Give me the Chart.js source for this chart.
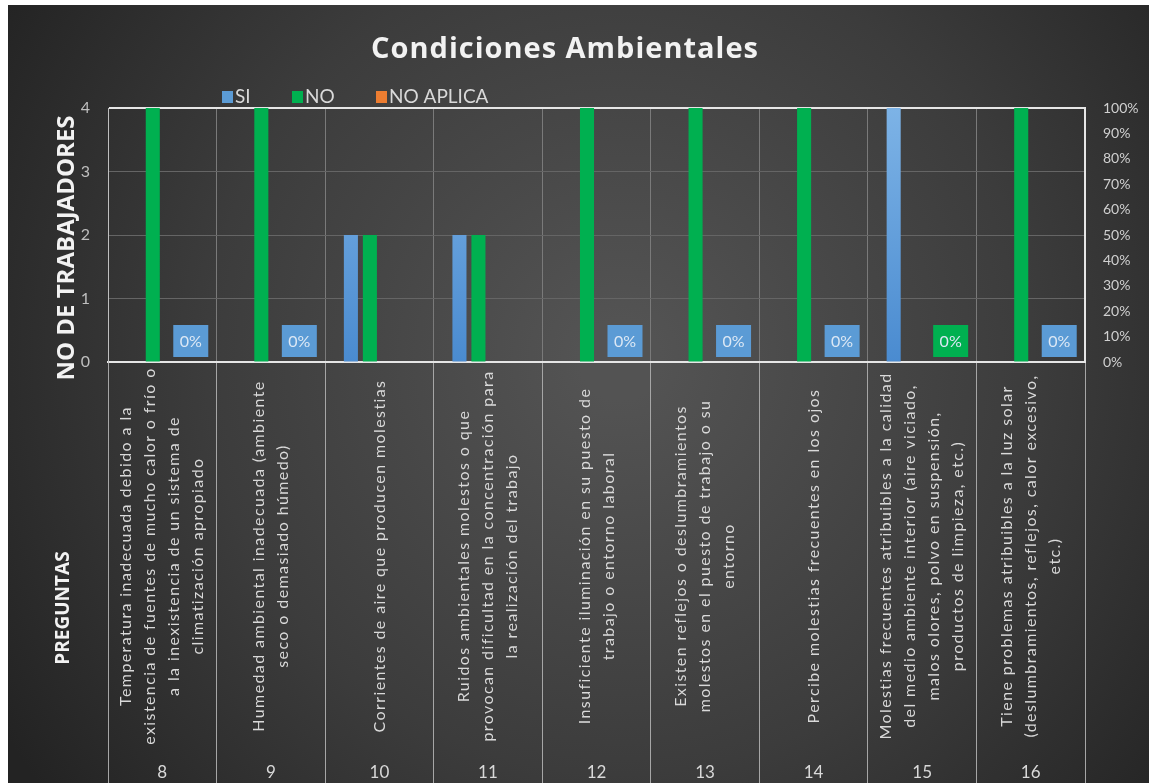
<!DOCTYPE html>
<html>
<head>
<meta charset="utf-8">
<script src="https://cdn.jsdelivr.net/npm/chart.js@4"></script>
<style>
  html, body { margin: 0; padding: 0; background: #fff; }
  canvas { display: block; }
</style>
</head>
<body>
<canvas id="c" width="1149" height="783"></canvas>
<script>
// Condiciones Ambientales — barras agrupadas SI / NO / NO APLICA + etiqueta % por pregunta
const NUMEROS = ["8", "9", "10", "11", "12", "13", "14", "15", "16"];
const PREGUNTAS = [
  ["Temperatura inadecuada debido a la", "existencia de fuentes de mucho calor o frío o", "a la inexistencia de un sistema de", "climatización apropiado"],
  ["Humedad ambiental inadecuada (ambiente", "seco o demasiado húmedo)"],
  ["Corrientes de aire que producen molestias"],
  ["Ruidos ambientales molestos o que", "provocan dificultad en la concentración para", "la realización del trabajo"],
  ["Insuficiente iluminación en su puesto de", "trabajo o entorno laboral"],
  ["Existen reflejos o deslumbramientos", "molestos en el puesto de trabajo o su", "entorno"],
  ["Percibe molestias frecuentes en los ojos"],
  ["Molestias frecuentes atribuibles a la calidad", "del medio ambiente interior (aire viciado,", "malos olores, polvo en suspensión,", "productos de limpieza, etc.)"],
  ["Tiene problemas atribuibles a la luz solar", "(deslumbramientos, reflejos, calor excesivo,", "etc.)"],
];
const SI = [0, 0, 2, 2, 0, 0, 0, 4, 0];
const NO = [4, 4, 2, 2, 4, 4, 4, 0, 4];
const NO_APLICA = [0, 0, 0, 0, 0, 0, 0, 0, 0];
const PORCENTAJE = [0, 0, 0, 0, 0, 0, 0, 0, 0];
const PCT_BOX = ["#5b9bd5", "#5b9bd5", "#5b9bd5", "#5b9bd5", "#5b9bd5", "#5b9bd5", "#5b9bd5", "#00b050", "#5b9bd5"];
const PCT_SHOWN = [true, true, false, false, true, true, true, true, true];

const BLUE = "#5b9bd5", GREEN = "#00b050", ORANGE = "#ed7d31";
const TXT = "#d9d9d9";
const LABEL_FONT = "Lato, 'Open Sans', sans-serif";

const blueGrad = (ctx) => {
  const a = ctx.chart.chartArea;
  if (!a) return BLUE;
  const g = ctx.chart.ctx.createLinearGradient(0, a.top, 0, a.bottom);
  g.addColorStop(0, "#7db3e6");
  g.addColorStop(1, "#4a8bd0");
  return g;
};

// fondo: margen blanco + degradado radial oscuro
const background = {
  id: "background",
  beforeDraw(chart) {
    const { ctx, width, height } = chart;
    ctx.save();
    ctx.fillStyle = "#fff";
    ctx.fillRect(0, 0, width, height);
    const g = ctx.createRadialGradient(620, 360, 40, 620, 360, 720);
    g.addColorStop(0, "#535353");
    g.addColorStop(0.55, "#3c3c3c");
    g.addColorStop(1, "#232323");
    ctx.fillStyle = g;
    ctx.fillRect(8, 5, width - 8, height - 5);
    ctx.restore();
  },
};

// título, leyenda, títulos de ejes, textos de preguntas y cajas 0%
const decor = {
  id: "decor",
  afterDraw(chart) {
    const { ctx, chartArea: a } = chart;
    const x = chart.scales.x;
    ctx.save();

    ctx.fillStyle = "#f2f2f2";
    ctx.font = "bold 29px 'Open Sans', sans-serif";
    ctx.letterSpacing = "1px";
    ctx.textAlign = "center";
    ctx.textBaseline = "alphabetic";
    ctx.fillText("Condiciones Ambientales", 565, 58);
    ctx.letterSpacing = "0px";

    // leyenda
    const legendX = [222, 292, 376];
    ctx.font = "19px " + LABEL_FONT;
    ctx.textAlign = "left";
    ctx.textBaseline = "middle";
    chart.data.datasets.slice(0, 3).forEach((d, i) => {
      ctx.fillStyle = d.legendColor;
      ctx.fillRect(legendX[i], 91, 11, 12);
      ctx.fillStyle = TXT;
      ctx.fillText(d.label, legendX[i] + 13, 97);
    });

    // títulos de ejes
    ctx.fillStyle = "#f2f2f2";
    ctx.textAlign = "center";
    ctx.font = "bold 24px 'Open Sans', sans-serif";
    ctx.save();
    ctx.translate(67, 248);
    ctx.rotate(-Math.PI / 2);
    ctx.fillText("NO DE TRABAJADORES", 0, 0);
    ctx.restore();
    ctx.font = "bold 19px 'Open Sans', sans-serif";
    ctx.save();
    ctx.translate(64, 608);
    ctx.rotate(-Math.PI / 2);
    ctx.fillText("PREGUNTAS", 0, 0);
    ctx.restore();

    // preguntas (texto girado) y números
    ctx.fillStyle = TXT;
    PREGUNTAS.forEach((lines, i) => {
      const cx = x.getPixelForValue(i);
      const lh = 24;
      ctx.font = "16px " + LABEL_FONT;
      ctx.letterSpacing = "1.4px";
      ctx.save();
      ctx.translate(cx, 556);
      ctx.rotate(-Math.PI / 2);
      lines.forEach((ln, k) => {
        ctx.fillText(ln, 0, (k - (lines.length - 1) / 2) * lh);
      });
      ctx.restore();
      ctx.letterSpacing = "0px";
      ctx.font = "17px " + LABEL_FONT;
      ctx.fillText(NUMEROS[i], cx, 773);
    });

    // cajas de porcentaje
    const meta = chart.getDatasetMeta(3);
    ctx.font = "16px " + LABEL_FONT;
    meta.data.forEach((el, i) => {
      if (!PCT_SHOWN[i]) return;
      const cy = a.bottom - 21;
      ctx.fillStyle = PCT_BOX[i];
      ctx.fillRect(el.x - 17.5, cy - 16, 35, 32);
      ctx.fillStyle = "#dce8f5";
      ctx.fillText(Math.round(PORCENTAJE[i] * 100) + "%", el.x, cy + 1);
    });
    ctx.restore();
  },
};

new Chart(document.getElementById("c"), {
  type: "bar",
  data: {
    labels: NUMEROS,
    datasets: [
      { label: "SI", data: SI, backgroundColor: blueGrad, legendColor: BLUE, yAxisID: "y" },
      { label: "NO", data: NO, backgroundColor: GREEN, legendColor: GREEN, yAxisID: "y" },
      { label: "NO APLICA", data: NO_APLICA, backgroundColor: ORANGE, legendColor: ORANGE, yAxisID: "y" },
      { label: "%", data: PORCENTAJE, backgroundColor: "rgba(0,0,0,0)", yAxisID: "y2" },
    ],
  },
  options: {
    responsive: false,
    animation: false,
    categoryPercentage: 0.7,
    barPercentage: 0.74,
    layout: { padding: { top: 108, left: 0, right: 0, bottom: 0 } },
    plugins: { legend: { display: false }, tooltip: { enabled: false } },
    scales: {
      x: {
        grid: { offset: true, color: "#7a7a7a", tickColor: "#a6a6a6", tickLength: 421, lineWidth: 1 },
        border: { color: "#e6e6e6", width: 2 },
        ticks: { display: false },
        afterFit: (s) => { s.height = 421; },
      },
      y: {
        position: "left", min: 0, max: 4,
        ticks: { stepSize: 1, color: "#bfbfbf", padding: 18, font: { family: LABEL_FONT, size: 16 } },
        grid: { drawTicks: false, color: (c) => (c.tick && c.tick.value === 4 ? "#e6e6e6" : "#656565"),
          lineWidth: (c) => (c.tick && c.tick.value === 4 ? 2 : 1) },
        border: { color: "#bfbfbf", width: 1 },
        afterFit: (s) => { s.width = 108; },
      },
      y2: {
        position: "right", min: 0, max: 1,
        ticks: { stepSize: 0.1, color: "#d0d0d0", padding: 18, font: { family: LABEL_FONT, size: 14 },
          callback: (v) => Math.round(v * 100) + "%" },
        grid: { display: false, drawTicks: false },
        border: { color: "#e6e6e6", width: 2 },
        afterFit: (s) => { s.width = 64; },
      },
    },
  },
  plugins: [background, decor],
});
</script>
</body>
</html>
